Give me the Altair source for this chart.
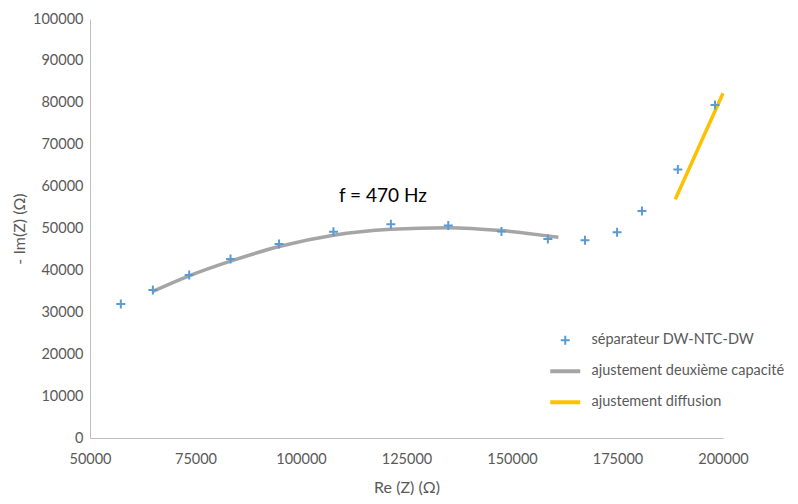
import altair as alt
import pandas as pd

# measured points
sep_x = [57300, 64900, 73500, 83300, 94800, 107700, 121300, 134900, 147500, 158500, 167300, 174900, 180800, 189300, 198100]
sep_y = [32000, 35300, 38900, 42700, 46300, 49200, 51000, 50700, 49300, 47500, 47200, 49100, 54200, 64100, 79500]

# fit "deuxième capacité"
fit2_x = [64900, 73500, 83300, 94800, 107700, 121300, 134900, 147500, 161000]
fit2_y = [35000, 38700, 42200, 45700, 48400, 49800, 50200, 49500, 47900]

# fit "diffusion"
diff_x = [188700, 200000]
diff_y = [57000, 82300]

ann_x = [119400]
ann_y = [57800]
ann_text = ["f = 470 Hz"]

S_SEP = "séparateur DW-NTC-DW"
S_FIT = "ajustement deuxième capacité"
S_DIF = "ajustement diffusion"

df_sep = pd.DataFrame({"x": sep_x, "y": sep_y, "s": S_SEP})
df_fit = pd.DataFrame({"x": fit2_x, "y": fit2_y, "s": S_FIT})
df_dif = pd.DataFrame({"x": diff_x, "y": diff_y, "s": S_DIF})
df_ann = pd.DataFrame({"x": ann_x, "y": ann_y, "t": ann_text})

FONT = "Lato"
PLUS = "M-0.3,0H0.3M0,-0.3V0.3"

color_scale = alt.Scale(domain=[S_SEP, S_FIT, S_DIF], range=["#5b9bd5", "#a5a5a5", "#ffc000"])
shape_scale = alt.Scale(domain=[S_SEP, S_FIT, S_DIF], range=[PLUS, "stroke", "stroke"])

xs = alt.X("x:Q", scale=alt.Scale(domain=[50000, 200000], nice=False),
           axis=alt.Axis(title="Re (Z) (Ω)", values=[50000, 75000, 100000, 125000, 150000, 175000, 200000],
                         format="d", titleY=49, titleBaseline="middle", labelFlush=False,
                         labelPadding=14))
ys = alt.Y("y:Q", scale=alt.Scale(domain=[0, 100000], nice=False),
           axis=alt.Axis(title="- Im(Z) (Ω)", values=list(range(0, 100001, 10000)), format="d",
                         titleX=-71, titleBaseline="middle", labelFlush=False, labelPadding=7))

legend = alt.Legend(
    title=None, orient="none", legendX=468, legendY=314,
    symbolSize=900,
    symbolStrokeWidth={"expr": f"datum.value === '{S_SEP}' ? 2 : 4"},
    labelOffset=19, rowPadding=14, labelLimit=400,
    labelFont=FONT, labelFontSize=14.5, labelColor="#595959",
)

pts = alt.Chart(df_sep).mark_point(filled=False, size=900, strokeWidth=2, opacity=1).encode(
    x=xs, y=ys,
    color=alt.Color("s:N", scale=color_scale, legend=legend),
    shape=alt.Shape("s:N", scale=shape_scale, legend=legend),
)

fit = alt.Chart(df_fit).mark_line(strokeWidth=3.5, interpolate="monotone").encode(
    x="x:Q", y="y:Q", color=alt.Color("s:N", scale=color_scale, legend=legend))

dif = alt.Chart(df_dif).mark_line(strokeWidth=3.5).encode(
    x="x:Q", y="y:Q", color=alt.Color("s:N", scale=color_scale, legend=legend))

ann = alt.Chart(df_ann).mark_text(font=FONT, fontSize=19, color="#000000").encode(
    x="x:Q", y="y:Q", text="t:N")

chart = alt.layer(fit, dif, pts, ann).properties(
    width=633, height=419,
    autosize=alt.AutoSizeParams(type="none"),
    padding={"left": 82, "top": 11, "right": 67, "bottom": 58},
).configure_view(stroke=None).configure_axis(
    grid=False, ticks=False, domainColor="#bfbfbf", domainWidth=1,
    labelFont=FONT, labelFontSize=14.5, labelColor="#595959",
    titleFont=FONT, titleFontSize=16, titleColor="#595959", titleFontWeight="normal",
)

chart.save("out.html", embed_options={"renderer": "svg", "actions": False})
